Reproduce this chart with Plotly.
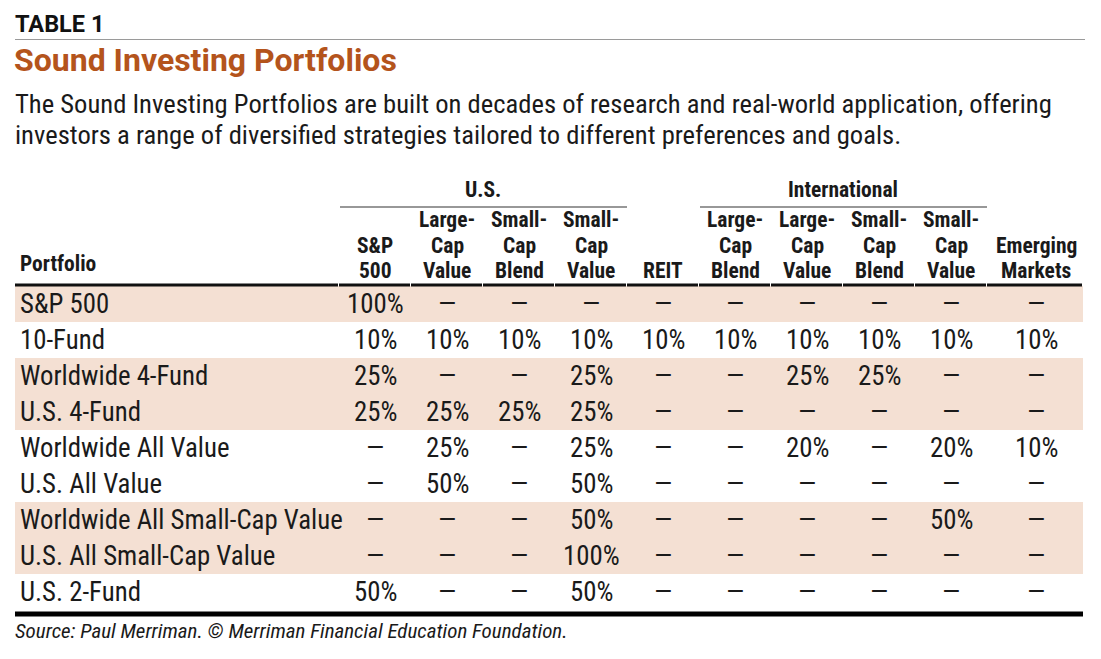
import plotly.graph_objects as go

# ---------------- data ----------------
portfolios = ["S&P 500", "10-Fund", "Worldwide 4-Fund", "U.S. 4-Fund",
              "Worldwide All Value", "U.S. All Value",
              "Worldwide All Small-Cap Value", "U.S. All Small-Cap Value",
              "U.S. 2-Fund"]

column_labels = [["S&P", "500"], ["Large-", "Cap", "Value"], ["Small-", "Cap", "Blend"],
                 ["Small-", "Cap", "Value"], ["REIT"], ["Large-", "Cap", "Blend"],
                 ["Large-", "Cap", "Value"], ["Small-", "Cap", "Blend"],
                 ["Small-", "Cap", "Value"], ["Emerging", "Markets"]]

group_labels = ["U.S.", "International"]
group_spans = [(0, 3), (5, 8)]   # column index ranges

# allocations in %, None = dash
us_sp500 = [100, 10, 25, 25, None, None, None, None, 50]
us_lcv = [None, 10, None, 25, 25, 50, None, None, None]
us_scb = [None, 10, None, 25, None, None, None, None, None]
us_scv = [None, 10, 25, 25, 25, 50, 50, 100, 50]
reit = [None, 10, None, None, None, None, None, None, None]
intl_lcb = [None, 10, None, None, None, None, None, None, None]
intl_lcv = [None, 10, 25, None, 20, None, None, None, None]
intl_scb = [None, 10, 25, None, None, None, None, None, None]
intl_scv = [None, 10, None, None, 20, None, 50, None, None]
emerging = [None, 10, None, None, 10, None, None, None, None]

columns = [us_sp500, us_lcv, us_scb, us_scv, reit,
           intl_lcb, intl_lcv, intl_scb, intl_scv, emerging]

shaded_rows = [0, 2, 3, 6, 7]

label_text = "TABLE 1"
title_text = "Sound Investing Portfolios"
subtitle_lines = ["The Sound Investing Portfolios are built on decades of research and real-world application, offering",
                  "investors a range of diversified strategies tailored to different preferences and goals."]
source_text = "Source: Paul Merriman. © Merriman Financial Education Foundation."

# ---------------- layout constants ----------------
W, H = 1101, 659
OFF = 8                      # page body margin
LEFT, RIGHT = 15, 1083
first_col_x = 339
col_w = 72
col_edges = [first_col_x + i * col_w for i in range(len(columns))] + [RIGHT]
col_centers = [(col_edges[i] + col_edges[i + 1]) / 2 for i in range(len(columns))]
col_centers[-1] = 1036
row_top0 = 286
row_h = 36

NARROW = "Liberation Sans Narrow, Roboto Condensed, Arial Narrow, Roboto, sans-serif"
WIDE = "Roboto, Liberation Sans, Arial, sans-serif"
TXT = "#1a1a1a"
SHADE = "#f4e0d3"
ORANGE = "#b4541c"

fig = go.Figure()
shapes = []
ann = []

def add_text(x, y, text, size, color=TXT, family=NARROW, xanchor="center", yanchor="middle", bold=False, italic=False):
    t = text
    if bold:
        t = "<b>" + t + "</b>"
    if italic:
        t = "<i>" + t + "</i>"
    ann.append(dict(x=x, y=y, xref="x", yref="y", text=t, showarrow=False,
                    xanchor=xanchor, yanchor=yanchor,
                    font=dict(size=size, color=color, family=family)))

# headings
add_text(LEFT - 2, 24, label_text, 23.5, color="#111", family=WIDE, xanchor="left", bold=True)
shapes.append(dict(type="line", xref="x", yref="y", x0=LEFT, x1=RIGHT + 2, y0=39.5, y1=39.5,
                   line=dict(color="#9a9a9a", width=1.2)))
add_text(LEFT - 3, 60, title_text, 32, color=ORANGE, family=WIDE, xanchor="left", bold=True)
for i, line in enumerate(subtitle_lines):
    add_text(LEFT - 2, 103 + 31 * i, line, 26.6, color=TXT, xanchor="left")

# row shading
for r in shaded_rows:
    shapes.append(dict(type="rect", xref="x", yref="y", x0=LEFT, x1=RIGHT,
                       y0=row_top0 + r * row_h, y1=row_top0 + (r + 1) * row_h,
                       fillcolor=SHADE, line=dict(width=0), layer="below"))

# group headers
for g, (a, b) in zip(group_labels, group_spans):
    cx = (col_edges[a] + col_edges[b + 1]) / 2
    add_text(cx, 189, g, 21.5, bold=True)
    shapes.append(dict(type="line", xref="x", yref="y", x0=col_edges[a] + 1, x1=col_edges[b + 1],
                       y0=207, y1=207, line=dict(color="#333", width=1.2)))

# column headers
line_ys = [219, 245, 270]
for ci, lab in enumerate(column_labels):
    ys = line_ys[len(line_ys) - len(lab):]
    for txt, y in zip(lab, ys):
        add_text(col_centers[ci], y, txt, 21.5, bold=True)
add_text(18, 263, "Portfolio", 21.5, xanchor="left", bold=True)

# header bottom rule (segments per column)
seg_edges = [LEFT] + col_edges
for i in range(len(seg_edges) - 1):
    shapes.append(dict(type="line", xref="x", yref="y", x0=seg_edges[i], x1=seg_edges[i + 1] - 1,
                       y0=285, y1=285, line=dict(color="#111", width=3)))

# body
for r, name in enumerate(portfolios):
    yc = row_top0 + r * row_h + row_h / 2
    add_text(18, yc, name, 26.8, xanchor="left")
    for ci, col in enumerate(columns):
        v = col[r]
        add_text(col_centers[ci], yc, "—" if v is None else f"{v}%", 26.8)

# bottom rule
shapes.append(dict(type="line", xref="x", yref="y", x0=LEFT, x1=RIGHT, y0=614, y1=614,
                   line=dict(color="#000", width=5)))

add_text(LEFT - 2, 631, source_text, 21, xanchor="left", italic=True)

fig.update_layout(
    width=W - OFF, height=H - OFF, autosize=False,
    margin=dict(l=0, r=0, t=0, b=0),
    paper_bgcolor="white", plot_bgcolor="white",
    xaxis=dict(range=[OFF, W], visible=False, fixedrange=True),
    yaxis=dict(range=[H, OFF], visible=False, fixedrange=True),
    shapes=shapes, annotations=ann, showlegend=False,
)

fig.write_html("out.html")
